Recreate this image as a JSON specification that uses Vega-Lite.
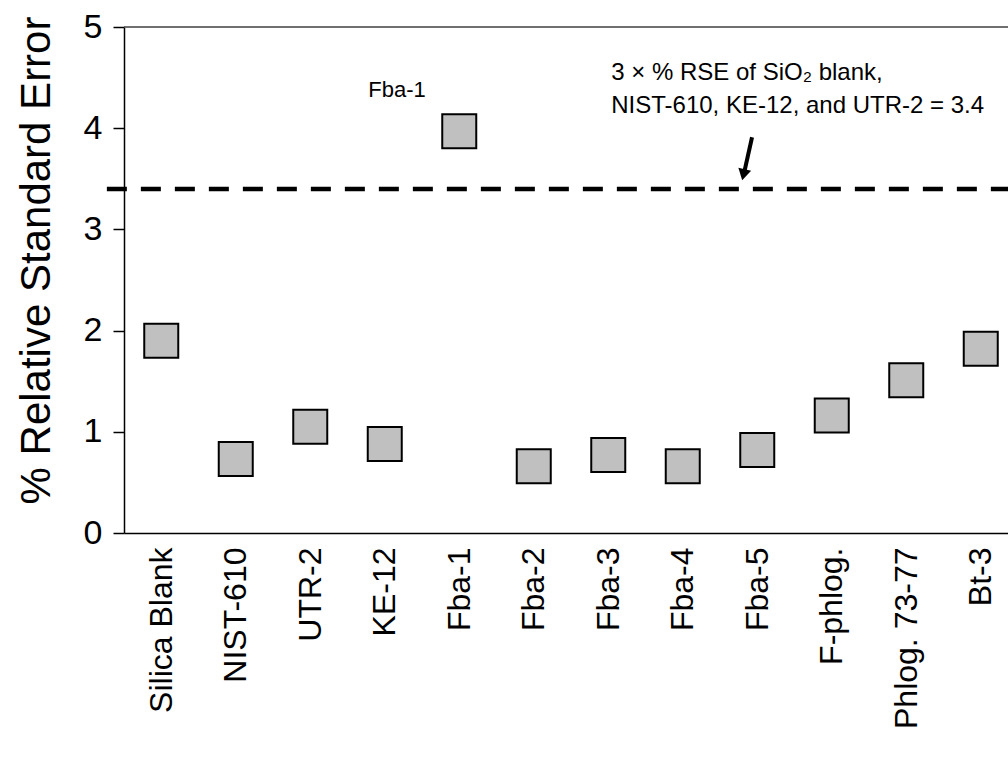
{
  "$schema": "https://vega.github.io/schema/vega-lite/v6.json",
  "autosize": {"type": "none"},
  "width": 884,
  "height": 506,
  "padding": {"left": 124, "top": 27, "right": 0, "bottom": 235},
  "background": "white",
  "config": {"view": {"stroke": null}, "font": "Liberation Sans"},
  "datasets": {
    "samples": [
      {"sample": "Silica Blank", "rse": 1.90},
      {"sample": "NIST-610", "rse": 0.73},
      {"sample": "UTR-2", "rse": 1.05},
      {"sample": "KE-12", "rse": 0.88},
      {"sample": "Fba-1", "rse": 3.97},
      {"sample": "Fba-2", "rse": 0.66},
      {"sample": "Fba-3", "rse": 0.77},
      {"sample": "Fba-4", "rse": 0.66},
      {"sample": "Fba-5", "rse": 0.82},
      {"sample": "F-phlog.", "rse": 1.16},
      {"sample": "Phlog. 73-77", "rse": 1.51},
      {"sample": "Bt-3", "rse": 1.82}
    ],
    "threshold": [{"x": -0.23, "x2": 12, "y": 3.4}],
    "topline": [{"y": 5}],
    "arrow": [{"x": 8.43, "y": 3.91, "x2": 8.33, "y2": 3.58}],
    "arrowhead": [{"x": 8.315, "y": 3.54}],
    "labels": [
      {"x": 3.28, "y": 4.31, "text": "Fba-1", "size": 22},
      {"x": 6.54, "y": 4.48, "text": "3 × % RSE of SiO₂ blank,", "size": 24},
      {"x": 6.54, "y": 4.15, "text": "NIST-610, KE-12, and UTR-2 = 3.4", "size": 24}
    ]
  },
  "layer": [
    {
      "data": {"name": "samples"},
      "mark": {"type": "point", "shape": "square", "filled": true, "fill": "#c0c0c0", "stroke": "black", "strokeWidth": 2, "size": 1156, "opacity": 1},
      "encoding": {
        "x": {
          "field": "sample", "type": "nominal", "sort": null,
          "scale": {"type": "point", "range": [0, 894], "padding": 0.5},
          "axis": {
            "title": null, "ticks": false, "domainColor": "black", "domainWidth": 1.5,
            "labelAngle": -90, "labelAlign": "right", "labelBaseline": "middle", "labelLimit": 400,
            "labelPadding": 14, "labelFontSize": 32, "labelColor": "black", "labelFont": "Liberation Sans"
          }
        },
        "y": {
          "field": "rse", "type": "quantitative",
          "scale": {"domain": [0, 5], "nice": false},
          "axis": {
            "title": "% Relative Standard Error", "values": [0, 1, 2, 3, 4, 5], "format": "d", "grid": false,
            "tickSize": 11, "tickWidth": 1.5, "tickColor": "black", "domainColor": "black", "domainWidth": 1.5,
            "labelPadding": 11, "labelFontSize": 34, "labelColor": "black", "labelFont": "Liberation Sans",
            "titleFontSize": 42, "titleFontWeight": "normal", "titleColor": "black", "titleFont": "Liberation Sans",
            "titleX": -88, "titleY": 233, "titleAngle": -90, "titleAlign": "center", "titleBaseline": "middle"
          }
        }
      }
    },
    {
      "data": {"name": "topline"},
      "mark": {"type": "rule", "color": "#404040", "strokeWidth": 1.5},
      "encoding": {
        "y": {"field": "y", "type": "quantitative", "scale": {"domain": [0, 5], "nice": false}}
      }
    },
    {
      "data": {"name": "threshold"},
      "mark": {"type": "rule", "strokeDash": [20, 14], "strokeWidth": 4.5, "color": "black"},
      "encoding": {
        "x": {"field": "x", "type": "quantitative", "scale": {"domain": [0, 12], "range": [0, 894], "nice": false, "zero": false}, "axis": null},
        "x2": {"field": "x2"},
        "y": {"field": "y", "type": "quantitative", "scale": {"domain": [0, 5], "nice": false}}
      }
    },
    {
      "data": {"name": "arrow"},
      "mark": {"type": "rule", "strokeWidth": 4, "color": "black"},
      "encoding": {
        "x": {"field": "x", "type": "quantitative", "scale": {"domain": [0, 12], "range": [0, 894], "nice": false, "zero": false}, "axis": null},
        "x2": {"field": "x2"},
        "y": {"field": "y", "type": "quantitative", "scale": {"domain": [0, 5], "nice": false}},
        "y2": {"field": "y2"}
      }
    },
    {
      "data": {"name": "arrowhead"},
      "mark": {"type": "point", "shape": "triangle-down", "filled": true, "color": "black", "size": 170, "angle": 13, "opacity": 1},
      "encoding": {
        "x": {"field": "x", "type": "quantitative", "scale": {"domain": [0, 12], "range": [0, 894], "nice": false, "zero": false}, "axis": null},
        "y": {"field": "y", "type": "quantitative", "scale": {"domain": [0, 5], "nice": false}}
      }
    },
    {
      "data": {"name": "labels"},
      "mark": {"type": "text", "align": "left", "baseline": "alphabetic", "color": "black", "font": "Liberation Sans"},
      "encoding": {
        "x": {"field": "x", "type": "quantitative", "scale": {"domain": [0, 12], "range": [0, 894], "nice": false, "zero": false}, "axis": null},
        "y": {"field": "y", "type": "quantitative", "scale": {"domain": [0, 5], "nice": false}},
        "text": {"field": "text"},
        "size": {"field": "size", "type": "quantitative", "scale": null}
      }
    }
  ],
  "resolve": {"scale": {"x": "independent"}, "axis": {"x": "independent"}}
}
